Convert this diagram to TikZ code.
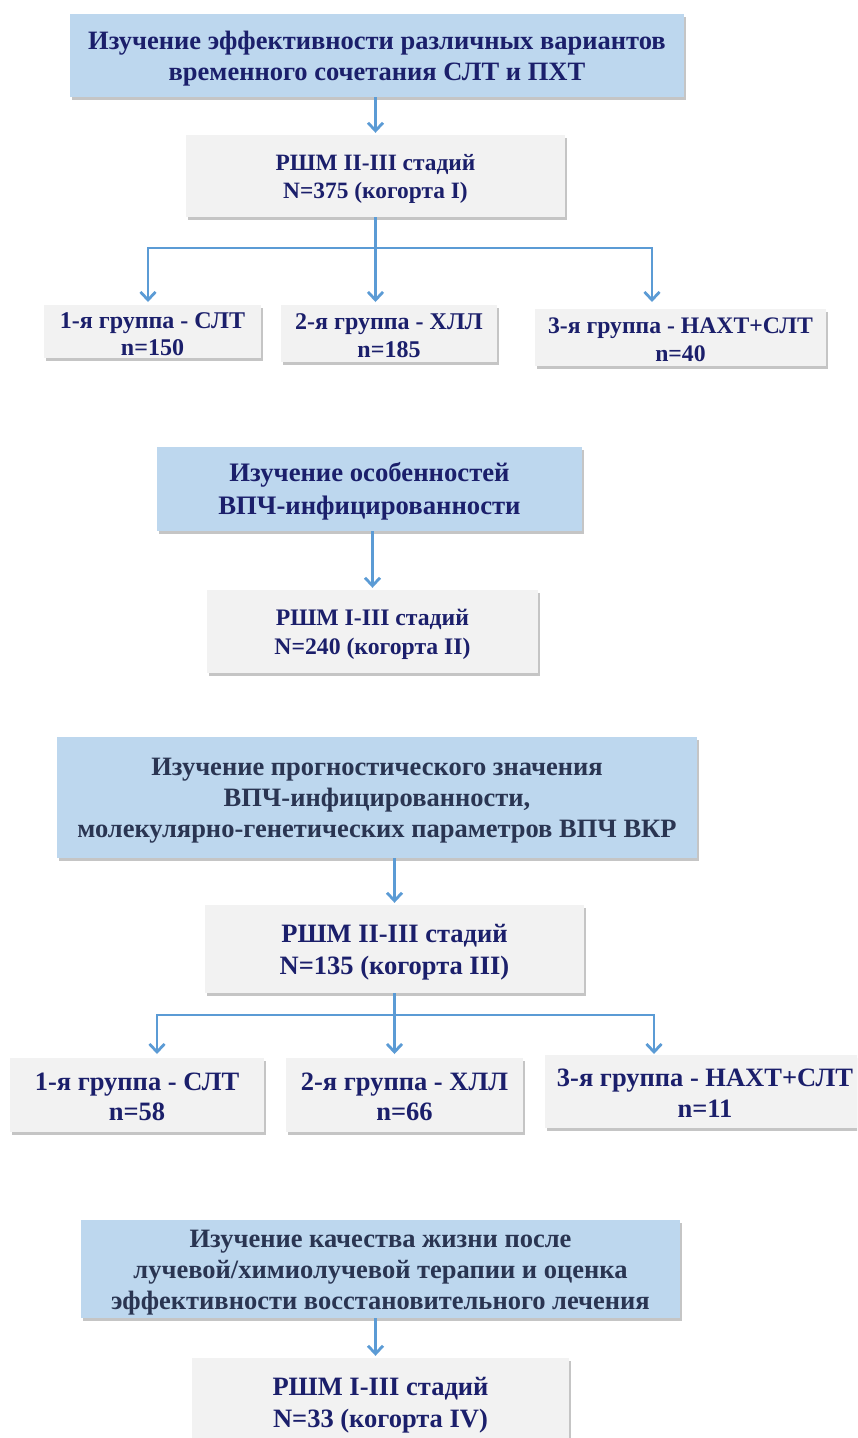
\documentclass[tikz,border=0pt]{standalone}
\usepackage{fontspec}
\setmainfont{Liberation Serif}
\usetikzlibrary{shadows,arrows.meta}
\definecolor{bluebox}{HTML}{BDD7EE}
\definecolor{graybox}{HTML}{F2F2F2}
\definecolor{navy}{HTML}{1B1F6B}
\definecolor{slate}{HTML}{2A3552}
\definecolor{arrowblue}{HTML}{5B9BD5}
\tikzset{
  basebox/.style={rectangle, inner sep=0pt,
    drop shadow={shadow xshift=1.5pt, shadow yshift=-2.5pt, opacity=0.45, fill=gray}},
  topic/.style={basebox, fill=bluebox},
  cohort/.style={basebox, fill=graybox},
  txt/.style={inner sep=0pt, align=center, text=navy},
  conn/.style={draw=arrowblue, line width=2.8pt},
  arr/.style={conn, -{Straight Barb[length=8pt,width=15pt,line width=2.8pt]}}
}
\begin{document}
\begin{tikzpicture}[x=1pt,y=1pt]
\useasboundingbox (0,0) rectangle (857,-1438);
\clip (0,0) rectangle (857,-1438);
\fill[white] (0,0) rectangle (857,-1438);

% ---- block 1
\node[topic, minimum width=614pt, minimum height=83pt] (A) at (377,-55.5) {};
\node[txt, font=\fontsize{26.5}{31}\selectfont\bfseries] (Atxt) at ([yshift=-3pt]A.center)
  {Изучение эффективности различных вариантов\\временного сочетания СЛТ и ПХТ};
\node[cohort, minimum width=379pt, minimum height=82pt] (B) at (375.5,-176) {};
\node[txt, font=\fontsize{23.4}{28}\selectfont\bfseries] (Btxt) at ([yshift=-3pt]B.center)
  {РШМ II-III  стадий\\N=375 (когорта I)};
\node[cohort, minimum width=217pt, minimum height=53pt] (G1) at (152.5,-331.5) {};
\node[txt, font=\fontsize{24}{27}\selectfont\bfseries] (G1txt) at ([yshift=-2.5pt]G1.center)
  {1-я группа - СЛТ\\n=150};
\node[cohort, minimum width=216pt, minimum height=57pt] (G2) at (389,-333.5) {};
\node[txt, font=\fontsize{24}{28}\selectfont\bfseries] (G2txt) at ([yshift=-2pt]G2.center)
  {2-я группа - ХЛЛ\\n=185};
\node[cohort, minimum width=291pt, minimum height=57pt] (G3) at (680.5,-337.5) {};
\node[txt, font=\fontsize{23.7}{28}\selectfont\bfseries] (G3txt) at ([yshift=-2pt]G3.center)
  {3-я группа - НАХТ+СЛТ\\n=40};

\draw[arr] (A.south -| B.north) -- ([yshift=2pt]B.north);
\coordinate (j1) at (375.5,-248);
\coordinate (t1) at (148,-302);
\coordinate (t2) at (375.5,-302);
\coordinate (t3) at (652,-302);
\draw[conn] (B.south) -- (j1);
\draw[arr] (j1) -| (t1);
\draw[arr] (j1) -- (t2);
\draw[arr] (j1) -| (t3);

% ---- block 2
\node[topic, minimum width=425pt, minimum height=84pt] (C) at (369.5,-489) {};
\node[txt, font=\fontsize{26.7}{33}\selectfont\bfseries] (Ctxt) at ([yshift=-2.5pt]C.center)
  {Изучение особенностей\\ВПЧ-инфицированности};
\node[cohort, minimum width=331pt, minimum height=83pt] (D) at (372.5,-631.5) {};
\node[txt, font=\fontsize{23.7}{29}\selectfont\bfseries] (Dtxt) at ([yshift=-3pt]D.center)
  {РШМ I-III  стадий\\N=240 (когорта II)};
\draw[arr] (C.south -| D.north) -- ([yshift=2pt]D.north);

% ---- block 3
\node[topic, minimum width=640pt, minimum height=121pt] (E) at (377,-797.5) {};
\node[txt, text=slate, font=\fontsize{26.5}{31}\selectfont\bfseries] (Etxt) at ([yshift=-3pt]E.center)
  {Изучение прогностического значения\\ВПЧ-инфицированности,\\молекулярно-генетических параметров ВПЧ ВКР};
\node[cohort, minimum width=379pt, minimum height=88pt] (F) at (394.5,-949) {};
\node[txt, font=\fontsize{26.5}{32}\selectfont\bfseries] (Ftxt) at ([yshift=-3.5pt]F.center)
  {РШМ II-III  стадий\\N=135 (когорта III)};
\draw[arr] (E.south -| F.north) -- ([yshift=2pt]F.north);
\node[cohort, minimum width=254pt, minimum height=74pt] (G4) at (137,-1095) {};
\node[txt, font=\fontsize{26.5}{30}\selectfont\bfseries] (G4txt) at ([yshift=-2pt]G4.center)
  {1-я группа - СЛТ\\n=58};
\node[cohort, minimum width=237pt, minimum height=74pt] (G5) at (404.5,-1095) {};
\node[txt, font=\fontsize{26.5}{30}\selectfont\bfseries] (G5txt) at ([yshift=-2pt]G5.center)
  {2-я группа - ХЛЛ\\n=66};
\node[cohort, minimum width=320pt, minimum height=73pt] (G6) at (705,-1091.5) {};
\node[txt, font=\fontsize{26.5}{31}\selectfont\bfseries] (G6txt) at ([yshift=-1.5pt]G6.center)
  {3-я группа - НАХТ+СЛТ\\n=11};
\coordinate (j2) at (394.5,-1015);
\coordinate (u1) at (157,-1054);
\coordinate (u2) at (394.5,-1054);
\coordinate (u3) at (654,-1054);
\draw[conn] (F.south) -- (j2);
\draw[arr] (j2) -| (u1);
\draw[arr] (j2) -- (u2);
\draw[arr] (j2) -| (u3);

% ---- block 4
\node[topic, minimum width=599pt, minimum height=98pt] (H) at (380.5,-1269) {};
\node[txt, text=slate, font=\fontsize{26.5}{31}\selectfont\bfseries] (Htxt) at ([yshift=-3.5pt]H.center)
  {Изучение качества жизни после\\лучевой/химиолучевой терапии и оценка\\эффективности восстановительного лечения};
\node[cohort, minimum width=377pt, minimum height=92pt] (I) at (380.5,-1404) {};
\node[txt, font=\fontsize{26.5}{32}\selectfont\bfseries] (Itxt) at ([yshift=-1pt]I.center)
  {РШМ I-III  стадий\\N=33 (когорта IV)};
\draw[arr] ([xshift=-5pt]H.south) -- ([xshift=-5pt,yshift=2pt]I.north);
\end{tikzpicture}
\end{document}
